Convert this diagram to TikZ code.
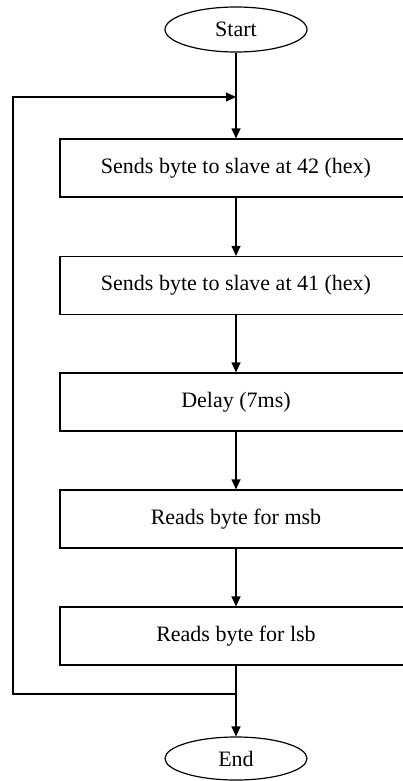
\documentclass[tikz,border=0pt]{standalone}
\usepackage{fontspec}
\setmainfont{Liberation Serif}
\usetikzlibrary{shapes.geometric,arrows.meta}
\tikzset{
  stepbox/.style={draw,line width=1.2pt,minimum width=352pt,minimum height=58pt,inner sep=0pt,font=\fontsize{22}{26}\selectfont},
  term/.style={draw,ellipse,line width=1.2pt,minimum width=142pt,inner sep=0pt,font=\fontsize{22}{26}\selectfont},
  arr/.style={line width=1.2pt,-{Triangle[length=10pt,width=9pt]}}
}
\begin{document}
\begin{tikzpicture}[x=1pt,y=-1pt]
\useasboundingbox (0,0) rectangle (402,781);
\node[term,minimum height=45pt] (start) at (236,29.5) {Start};
\node[stepbox] (send42) at (236,168) {Sends byte to slave at 42 (hex)};
\node[stepbox] (send41) at (236,285.5) {Sends byte to slave at 41 (hex)};
\node[stepbox] (delay) at (236,402) {Delay (7ms)};
\node[stepbox] (msb) at (236,519) {Reads byte for msb};
\node[stepbox] (lsb) at (236,636) {Reads byte for lsb};
\node[term,minimum height=43pt] (end) at (236,758.5) {End};
\coordinate (loopin) at (236,97);
\coordinate (loopout) at (236,694);
\coordinate (lefttop) at (13,97);
\coordinate (leftbot) at (13,694);
\draw[arr] (start) -- (send42);
\draw[arr] (send42) -- (send41);
\draw[arr] (send41) -- (delay);
\draw[arr] (delay) -- (msb);
\draw[arr] (msb) -- (lsb);
\draw[arr] (lsb) -- (end);
% loop back
\draw[arr] (loopout) -- (leftbot) -- (lefttop) -- (loopin);
\end{tikzpicture}
\end{document}
